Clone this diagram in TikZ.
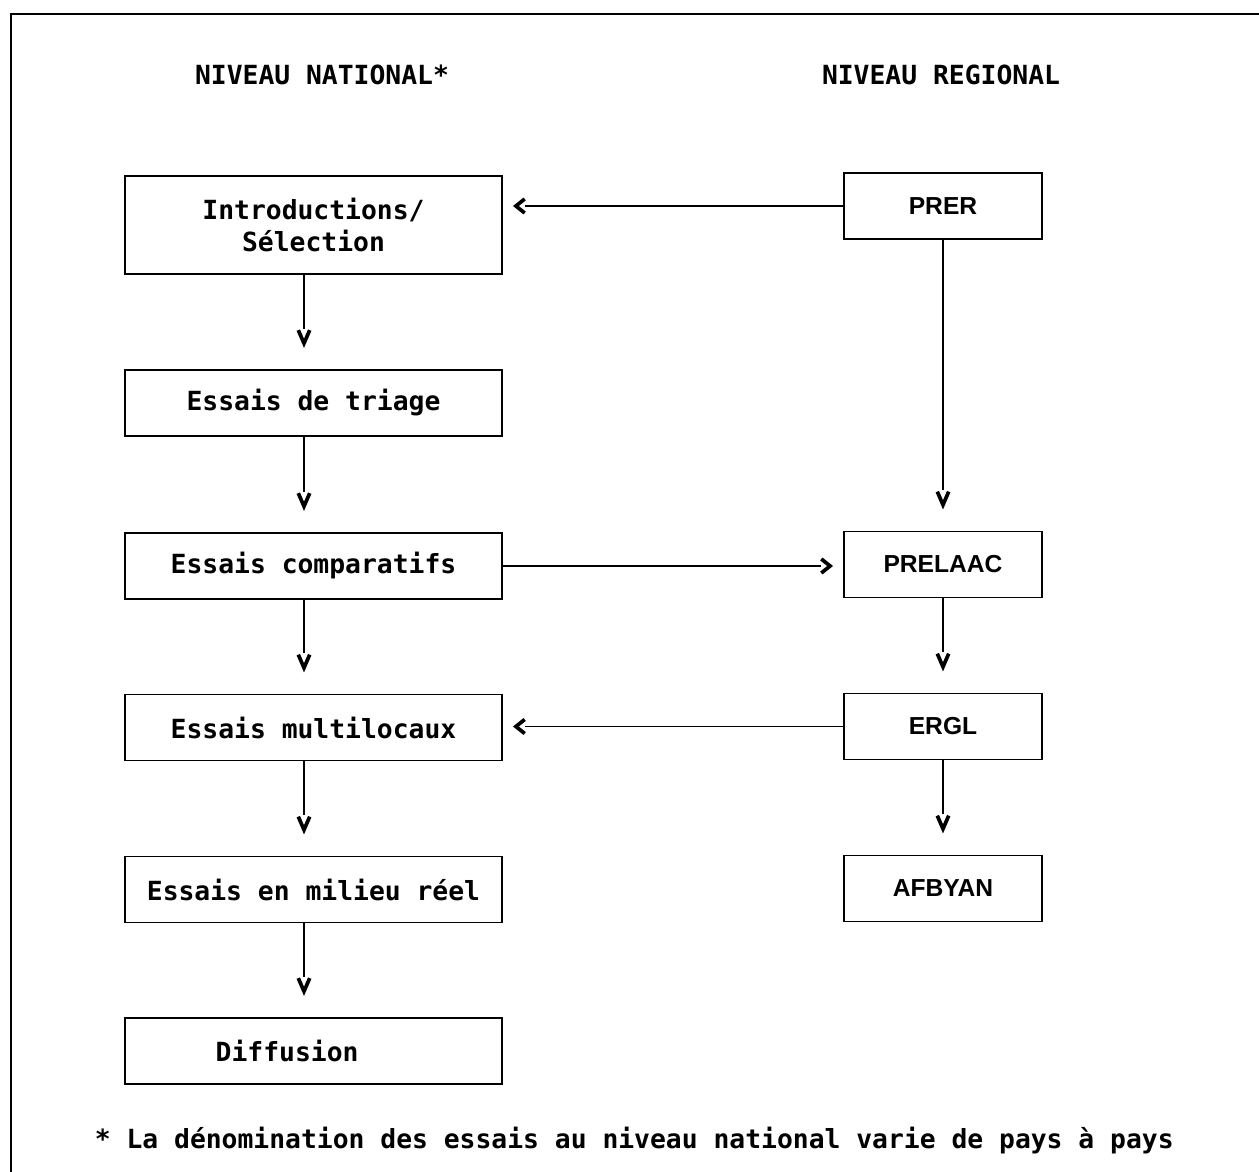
\documentclass[tikz,border=0pt]{standalone}
\usepackage{fontspec}
\setmonofont{DejaVu Sans Mono}
\setsansfont{Liberation Sans}
\usetikzlibrary{arrows.meta,decorations.markings}
\begin{document}
\begin{tikzpicture}
[x=0.02cm,y=-0.02cm,line width=1.1pt,
lab/.style = {font=\fontsize{15}{18}\selectfont\ttfamily\bfseries},
natbox/.style = {draw, lab, align=center, minimum width=7.54cm, minimum height=1.32cm},
regbox/.style = {draw, minimum width=3.96cm, minimum height=1.32cm, font=\fontsize{14}{16}\selectfont\sffamily\bfseries},
vtip/.style = {shorten >=23pt, postaction={decorate, decoration={markings,
  mark=at position -12pt with {\arrow{Straight Barb[length=7.5pt,width=6.5pt,line width=2.1pt]}}}}},
htip/.style = {shorten >=12.5pt, postaction={decorate, decoration={markings,
  mark=at position -5.7pt with {\arrow{Straight Barb[length=5pt,width=8pt,line width=2.1pt]}}}}},]

\useasboundingbox (0,0) rectangle (1259,1172);
% cadre
\draw (11,1172) -- (11,14) -- (1259,14);

\node (hnat) at (322,75)[lab] {NIVEAU NATIONAL*};
\node (hreg) at (941,75)[lab] {NIVEAU REGIONAL};

% niveau national
\node (intro) at (313.5,225)[natbox,minimum height=1.96cm] {Introductions/\\Sélection};
\node (triage) at (313.5,403)[natbox] {Essais de triage};
\node (comp) at (313.5,566)[natbox] {Essais comparatifs};
\node (multi) at (313.5,727.5)[natbox] {Essais multilocaux};
\node (reel) at (313.5,889.5)[natbox] {Essais en milieu réel};
\node (diff) at (313.5,1051)[natbox] {Diffusion\hspace*{2em}};

% niveau regional
\node (prer) at (943,206)[regbox] {PRER};
\node (prelaac) at (943,564.5)[regbox] {PRELAAC};
\node (ergl) at (943,726.5)[regbox] {ERGL};
\node (afbyan) at (943,888.5)[regbox] {AFBYAN};

\draw [vtip] ([xshift=-0.19cm]intro.south) -- ([xshift=-0.19cm]triage.north);
\draw [vtip] ([xshift=-0.19cm]triage.south) -- ([xshift=-0.19cm]comp.north);
\draw [vtip] ([xshift=-0.19cm]comp.south) -- ([xshift=-0.19cm]multi.north);
\draw [vtip] ([xshift=-0.19cm]multi.south) -- ([xshift=-0.19cm]reel.north);
\draw [vtip] ([xshift=-0.19cm]reel.south) -- ([xshift=-0.19cm]diff.north);

\draw [vtip] (prer.south) -- (prelaac.north);
\draw [vtip] (prelaac.south) -- (ergl.north);
\draw [vtip] (ergl.south) -- (afbyan.north);

\draw [htip] (prer.west) -- (prer.west -| intro.east);
\draw [htip] (comp.east) -- (comp.east -| prelaac.west);
\draw [htip] (ergl.west) -- (ergl.west -| multi.east);

\node (note) at (88,1141)[lab,anchor=west] {* La dénomination des essais au niveau national varie de pays à pays};

\end{tikzpicture}
\end{document}
